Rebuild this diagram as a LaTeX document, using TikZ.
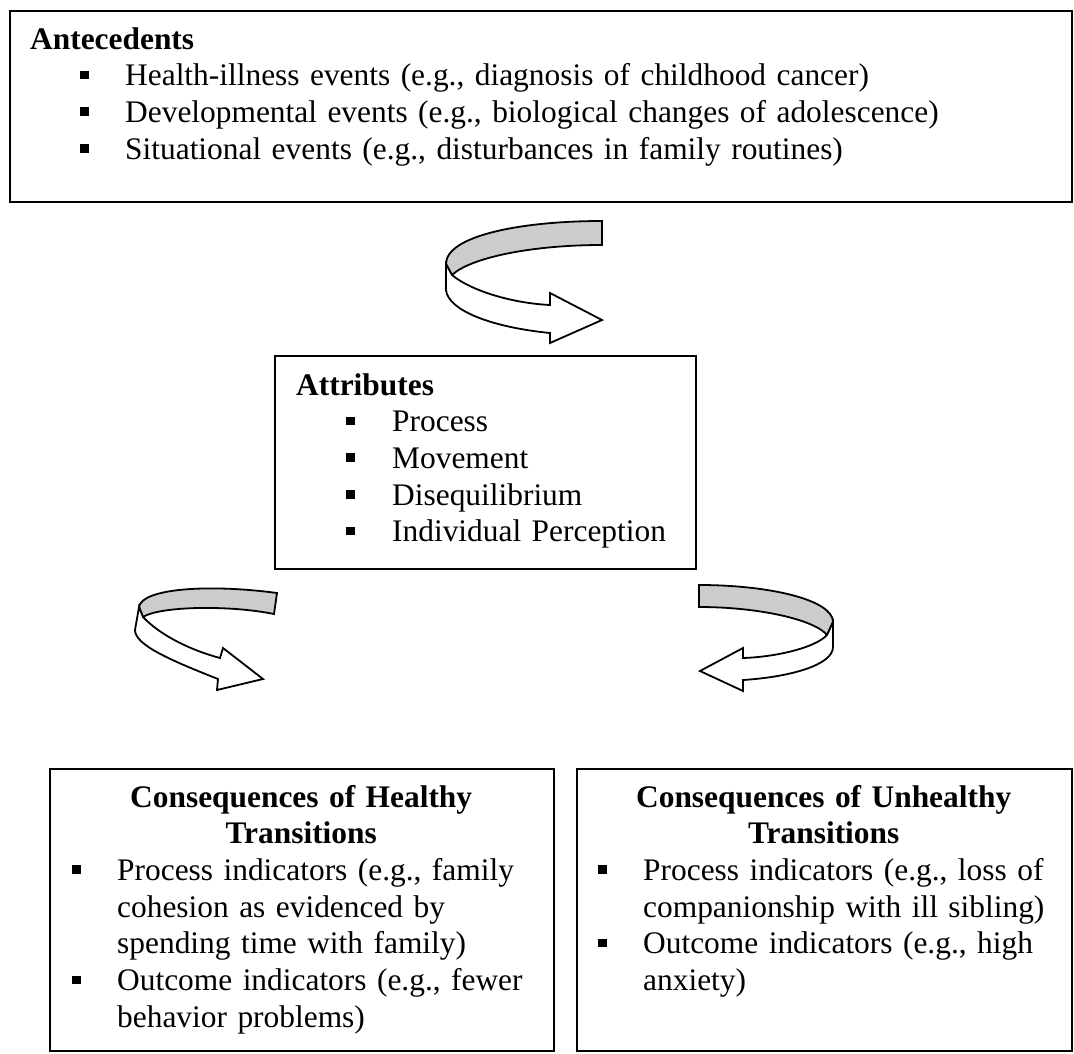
\documentclass[tikz,border=0pt]{standalone}
\usepackage{fontspec}
\setmainfont{Liberation Serif}
\newcommand{\bulsq}{\rule[6.5pt]{8.5pt}{8.5pt}}
\newcommand{\blitem}[3]{\par\noindent\hangindent=#2\hangafter=1\hspace*{#1}\makebox[\dimexpr#2-#1\relax][l]{\bulsq}#3}
\begin{document}
\begin{tikzpicture}
    [
    x=1pt, y=-1pt,
    frame/.style={draw,line width=1.8pt,rectangle,anchor=north west,inner sep=0pt},
    txt/.style={anchor=base west,inner sep=0pt,align=left,font=\fontsize{31.4}{36.7}\selectfont},
    back/.style={fill=black!20,draw,line width=1.8pt},
    front/.style={fill=white,draw,line width=1.8pt}
    ]
    \useasboundingbox (0,0) rectangle (1074,1053);
    % boxes
    \node (ante) at (9,10) [frame,minimum width=1062pt,minimum height=191pt] {};
    \node (attr) at (274,355) [frame,minimum width=421pt,minimum height=213pt] {};
    \node (healthy) at (49,768) [frame,minimum width=504pt,minimum height=282pt] {};
    \node (unhealthy) at (576,768) [frame,minimum width=495pt,minimum height=282pt] {};
    % texts
    \node (antetxt) at (30,49) [txt,text width=1000pt] {\textbf{Antecedents}
      \blitem{50pt}{95pt}{Health-illness events (e.g., diagnosis of childhood cancer)}
      \blitem{50pt}{95pt}{Developmental events (e.g., biological changes of adolescence)}
      \blitem{50pt}{95pt}{Situational events (e.g., disturbances in family routines)}\par};
    \node (attrtxt) at (296,395) [txt,text width=390pt] {\textbf{Attributes}
      \blitem{50pt}{96pt}{Process}
      \blitem{50pt}{96pt}{Movement}
      \blitem{50pt}{96pt}{Disequilibrium}
      \blitem{50pt}{96pt}{Individual Perception}\par};
    \node (healthytxt) at (56,807) [txt,text width=490pt] {{\centering\textbf{Consequences of Healthy\\Transitions}\par}
      \blitem{16pt}{61pt}{Process indicators (e.g., family\newline cohesion as evidenced by\newline spending time with family)}
      \blitem{16pt}{61pt}{Outcome indicators (e.g., fewer\newline behavior problems)}\par};
    \node (unhealthytxt) at (583,807) [txt,text width=481pt] {{\centering\textbf{Consequences of Unhealthy\\Transitions}\par}
      \blitem{15pt}{60pt}{Process indicators (e.g., loss of\newline companionship with ill sibling)}
      \blitem{15pt}{60pt}{Outcome indicators (e.g., high\newline anxiety)}\par};
    % turning arrows
    \draw [back] (602,221) .. controls (520,221) and (446,236) .. (446,264) -- (452,275)
      .. controls (470,258) and (530,245) .. (602,245) -- cycle;
    \draw [front] (446,264) -- (446,290) .. controls (448,310) and (490,327) .. (550,333)
      -- (550,343) -- (602,320) -- (550,293) -- (550,305)
      .. controls (510,303) and (470,290) .. (452,275) -- cycle;
    \draw [back] (277,593) .. controls (210,584) and (142,588) .. (139,607) -- (143,617)
      .. controls (160,606) and (230,605) .. (274,614) -- cycle;
    \draw [front] (139,607) -- (135,630) .. controls (135,645) and (170,660) .. (218,679)
      -- (217,690) -- (263,679) -- (223,648) -- (220,658)
      .. controls (190,650) and (160,635) .. (143,617) -- cycle;
    \draw [back] (699,585) .. controls (770,585) and (833,600) .. (833,622) -- (827,635)
      .. controls (815,620) and (760,607) .. (699,607) -- cycle;
    \draw [front] (833,622) -- (833,647) .. controls (833,665) and (790,677) .. (743,680)
      -- (743,691) -- (700,671) -- (743,648) -- (743,658)
      .. controls (775,657) and (815,648) .. (827,635) -- cycle;
\end{tikzpicture}
\end{document}
